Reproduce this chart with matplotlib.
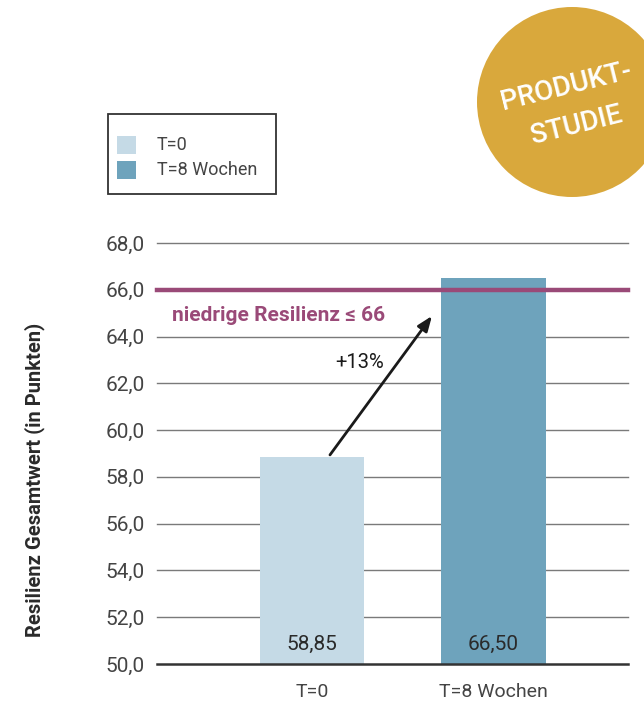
import matplotlib
matplotlib.use("Agg")
import matplotlib.pyplot as plt
from matplotlib.patches import Ellipse, Rectangle

categories = ["T=0", "T=8 Wochen"]
values = [58.85, 66.50]
value_labels = ["58,85", "66,50"]
threshold = 66.0
threshold_label = "niedrige Resilienz \u2264 66"
change_label = "+13%"
yticks = [50, 52, 54, 56, 58, 60, 62, 64, 66, 68]
ytick_labels = ["50,0", "52,0", "54,0", "56,0", "58,0", "60,0", "62,0", "64,0", "66,0", "68,0"]
ylabel = "Resilienz Gesamtwert (in Punkten)"
badge_lines = ["PRODUKT-", "STUDIE"]

bar_colors = ["#c5dae6", "#6ea3bc"]
purple = "#9a4a78"
text_gray = "#444444"

plt.rcParams['font.family'] = ['Roboto', 'DejaVu Sans']

W, H = 644, 704
fig = plt.figure(figsize=(W / 100, H / 100), dpi=100)
ax = fig.add_axes([157 / W, 1 - 664 / H, (628 - 157) / W, (664 - 243) / H])

x = list(range(len(categories)))
bars = ax.bar(x, [v - 50 for v in values], bottom=50, width=0.575,
              color=bar_colors, zorder=2)
ax.set_xlim(-0.854, 1.741)
ax.set_ylim(50, 68)

for yv in yticks[1:]:
    ax.axhline(yv, color="#7a7a7a", lw=1.0, zorder=1, clip_on=False)
ax.axhline(50, color="#333333", lw=1.8, zorder=3, clip_on=False)
ax.axhline(threshold, color=purple, lw=3.2, zorder=4, clip_on=False)

for s in ax.spines.values():
    s.set_visible(False)
ax.set_yticks(yticks)
ax.set_yticklabels(ytick_labels)
ax.set_xticks(x)
ax.set_xticklabels(categories)
ax.tick_params(axis="both", length=0, labelcolor=text_gray)
ax.tick_params(axis="y", pad=9, labelsize=15)
ax.tick_params(axis="x", pad=14, labelsize=14)

for xi, lab in zip(x, value_labels):
    ax.text(xi, 50.85, lab, ha="center", va="center", fontsize=15, color="#2a2a2a", zorder=5)

ax.text(-0.771, 64.9, threshold_label, ha="left", va="center", fontsize=15,
        fontweight="bold", color=purple, zorder=5)

ax.annotate("", xy=(0.661, 64.88), xytext=(0.099, 58.94),
            arrowprops=dict(arrowstyle="-|>,head_length=0.9,head_width=0.35",
                            color="#1a1a1a", lw=2.0, shrinkA=0, shrinkB=0), zorder=6)
ax.text(0.264, 62.9, change_label, ha="center", va="center", fontsize=14.5, color="#1a1a1a")

fig.text(35 / W, 1 - 480 / H, ylabel, rotation=90, ha="center", va="center",
         fontsize=14.5, fontweight="bold", color="#2a2a2a")

# legend box
fig.patches.append(Rectangle((108 / W, 1 - 194 / H), (276 - 108) / W, (194 - 114) / H,
                             transform=fig.transFigure, facecolor="white",
                             edgecolor="#333333", lw=1.3))
for i, (cat, col) in enumerate(zip(categories, bar_colors)):
    yc = 145 + i * 25
    fig.patches.append(Rectangle((117 / W, 1 - (yc + 9) / H), 19 / W, 18 / H,
                                 transform=fig.transFigure, facecolor=col, edgecolor="none"))
    fig.text(157 / W, 1 - yc / H, cat, ha="left", va="center", fontsize=13, color=text_gray)

# badge
fig.patches.append(Ellipse((572 / W, 1 - 102 / H), 190 / W, 190 / H,
                           transform=fig.transFigure, facecolor="#d9a83c", edgecolor="none"))
fig.text(566 / W, 1 - 87 / H, badge_lines[0], rotation=14, ha="center", va="center",
         fontsize=20, fontweight="medium", color="white", rotation_mode="anchor")
fig.text(576 / W, 1 - 125 / H, badge_lines[1], rotation=14, ha="center", va="center",
         fontsize=20, fontweight="medium", color="white", rotation_mode="anchor")

fig.savefig("out.png", dpi=100)
